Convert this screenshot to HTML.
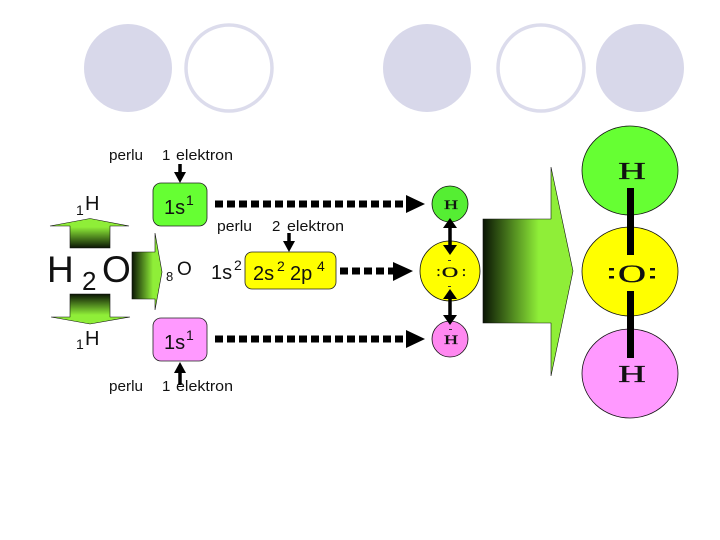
<!DOCTYPE html>
<html><head><meta charset="utf-8"><style>
html,body{margin:0;padding:0;background:#fff;width:720px;height:540px;overflow:hidden}
svg{display:block}
.s{font-family:"Liberation Sans",sans-serif;fill:#111}
.r{font-family:"Liberation Serif",serif;fill:#111;text-anchor:middle;stroke:#111;stroke-width:.35}
</style></head><body>
<svg width="720" height="540" viewBox="0 0 720 540" xmlns="http://www.w3.org/2000/svg">
<defs>
<linearGradient id="gh2" gradientUnits="userSpaceOnUse" x1="483" y1="0" x2="573" y2="0"><stop offset="0" stop-color="#0a1504"/><stop offset=".62" stop-color="#8fee38"/><stop offset="1" stop-color="#8fee38"/></linearGradient>
<linearGradient id="gh3" gradientUnits="userSpaceOnUse" x1="132" y1="0" x2="162" y2="0"><stop offset="0" stop-color="#0a1504"/><stop offset=".7" stop-color="#8fee38"/><stop offset="1" stop-color="#8fee38"/></linearGradient>
<linearGradient id="gu" gradientUnits="userSpaceOnUse" x1="0" y1="218" x2="0" y2="248"><stop offset="0" stop-color="#8fee38"/><stop offset=".3" stop-color="#8fee38"/><stop offset="1" stop-color="#0a1504"/></linearGradient>
<linearGradient id="gd" gradientUnits="userSpaceOnUse" x1="0" y1="324" x2="0" y2="294"><stop offset="0" stop-color="#8fee38"/><stop offset=".3" stop-color="#8fee38"/><stop offset="1" stop-color="#0a1504"/></linearGradient>
</defs>

<circle cx="128" cy="68" r="44" fill="#d8d8ea"/>
<circle cx="229" cy="68" r="43" fill="#fff" stroke="#dcdcec" stroke-width="3.5"/>
<circle cx="427" cy="68" r="44" fill="#d8d8ea"/>
<circle cx="541" cy="68" r="43" fill="#fff" stroke="#dcdcec" stroke-width="3.5"/>
<circle cx="640" cy="68" r="44" fill="#d8d8ea"/>

<!-- left arrows -->
<polygon points="50,226 90,218.5 129,226 110,226 110,248 70,248 70,226" fill="url(#gu)" stroke="#111" stroke-width=".6"/>
<polygon points="51,317 70,317 70,294 110,294 110,317 130,317 90,324" fill="url(#gd)" stroke="#111" stroke-width=".6"/>
<polygon points="132,252 155,252 155,233 162,272 155,310 155,299 132,299" fill="url(#gh3)" stroke="#111" stroke-width=".6"/>

<text class="s" x="47" y="282" font-size="37">H</text>
<text class="s" x="82" y="290" font-size="26">2</text>
<text class="s" x="102" y="282" font-size="37">O</text>
<text class="s" x="76" y="215" font-size="14">1</text>
<text class="s" x="85" y="210" font-size="20">H</text>
<text class="s" x="76" y="349" font-size="14">1</text>
<text class="s" x="85" y="345" font-size="20">H</text>
<text class="s" x="166" y="281" font-size="13">8</text>
<text class="s" x="177" y="275" font-size="19">O</text>

<text class="s" x="109" y="160" font-size="15" textLength="34" lengthAdjust="spacingAndGlyphs">perlu</text>
<text class="s" x="162" y="160" font-size="15">1</text>
<text class="s" x="176" y="160" font-size="15" textLength="57" lengthAdjust="spacingAndGlyphs">elektron</text>
<text class="s" x="109" y="391" font-size="15" textLength="34" lengthAdjust="spacingAndGlyphs">perlu</text>
<text class="s" x="162" y="391" font-size="15">1</text>
<text class="s" x="176" y="391" font-size="15" textLength="57" lengthAdjust="spacingAndGlyphs">elektron</text>
<text class="s" x="217" y="231" font-size="15" textLength="35" lengthAdjust="spacingAndGlyphs">perlu</text>
<text class="s" x="272" y="231" font-size="15">2</text>
<text class="s" x="287" y="231" font-size="15" textLength="57" lengthAdjust="spacingAndGlyphs">elektron</text>

<!-- boxes -->
<rect x="153" y="183" width="54" height="43" rx="8" fill="#66ff33" stroke="#222" stroke-width=".8"/>
<rect x="153" y="318" width="54" height="43" rx="8" fill="#ff99ff" stroke="#222" stroke-width=".8"/>
<rect x="245" y="252" width="91" height="37" rx="7" fill="#ffff00" stroke="#222" stroke-width=".8"/>
<text class="s" x="164" y="214" font-size="20">1s</text>
<text class="s" x="186" y="205" font-size="14">1</text>
<text class="s" x="164" y="349" font-size="20">1s</text>
<text class="s" x="186" y="340" font-size="14">1</text>
<text class="s" x="211" y="279" font-size="20">1s</text>
<text class="s" x="234" y="270" font-size="14">2</text>
<text class="s" x="253" y="280" font-size="20">2s</text>
<text class="s" x="277" y="271" font-size="14">2</text>
<text class="s" x="290" y="280" font-size="20">2p</text>
<text class="s" x="317" y="271" font-size="14">4</text>

<!-- small arrows -->
<path d="M180 164V173" stroke="#000" stroke-width="3.5"/><polygon points="174,172 186,172 180,183" fill="#000"/>
<path d="M289 233V242" stroke="#000" stroke-width="3.5"/><polygon points="283,241 295,241 289,252" fill="#000"/>
<path d="M180 372V385" stroke="#000" stroke-width="3.5"/><polygon points="174,373 186,373 180,362" fill="#000"/>

<!-- dashed arrows -->
<path d="M215 204H406" stroke="#000" stroke-width="7" stroke-dasharray="8 4"/>
<polygon points="406,195 425,204 406,213" fill="#000"/>
<path d="M340 271H393" stroke="#000" stroke-width="7" stroke-dasharray="8 4"/>
<polygon points="393,262 413,271 393,281" fill="#000"/>
<path d="M215 339H406" stroke="#000" stroke-width="7" stroke-dasharray="8 4"/>
<polygon points="406,330 425,339 406,348" fill="#000"/>

<!-- small atoms -->
<circle cx="450" cy="204" r="18" fill="#55ee33" stroke="#111" stroke-width=".8"/>
<circle cx="450" cy="271" r="30" fill="#ffff00" stroke="#111" stroke-width=".8"/>
<circle cx="450" cy="339" r="18" fill="#ff88f0" stroke="#111" stroke-width=".8"/>
<text class="r" font-size="13" transform="translate(451 209) scale(1.5 1)">H</text>
<text class="r" font-size="13" transform="translate(451 344) scale(1.5 1)">H</text>
<text class="r" font-size="15" transform="translate(450 277) scale(1.5 1)">O</text>
<text class="r" font-size="15" transform="translate(438.5 276)">:</text>
<text class="r" font-size="15" transform="translate(464 276)">:</text>
<rect x="448" y="260" width="3" height="1" fill="#333"/>
<rect x="448" y="286" width="3" height="1" fill="#333"/>
<rect x="449" y="329" width="3" height="1" fill="#333"/>

<path d="M450 226V247" stroke="#000" stroke-width="3.5"/>
<polygon points="450,218 443,228 457,228" fill="#000"/><polygon points="450,255 443,245 457,245" fill="#000"/>
<path d="M450 297V317" stroke="#000" stroke-width="3.5"/>
<polygon points="450,289 443,299 457,299" fill="#000"/><polygon points="450,325 443,315 457,315" fill="#000"/>

<!-- big arrow -->
<polygon points="483,219 551,219 551,167 573,271 551,376 551,323 483,323" fill="url(#gh2)" stroke="#111" stroke-width=".6"/>

<!-- big atoms -->
<ellipse cx="630" cy="170.5" rx="48" ry="44.5" fill="#66ff33" stroke="#111" stroke-width=".8"/>
<ellipse cx="630" cy="271.5" rx="48" ry="44.5" fill="#ffff00" stroke="#111" stroke-width=".8"/>
<ellipse cx="630" cy="373.5" rx="48" ry="44.5" fill="#ff99ff" stroke="#111" stroke-width=".8"/>
<rect x="627" y="188" width="7" height="67" fill="#000"/>
<rect x="627" y="291" width="7" height="67" fill="#000"/>
<text class="r" font-size="24" transform="translate(632 179) scale(1.6 1)">H</text>
<text class="r" font-size="24" transform="translate(632 382) scale(1.6 1)">H</text>
<text class="r" font-size="25" transform="translate(632 282) scale(1.55 1)">O</text>
<rect x="609" y="268" width="5" height="2.5" fill="#111"/><rect x="609" y="276" width="5" height="2.5" fill="#111"/>
<rect x="650" y="268" width="5" height="2.5" fill="#111"/><rect x="650" y="276" width="5" height="2.5" fill="#111"/>
</svg>
</body></html>
